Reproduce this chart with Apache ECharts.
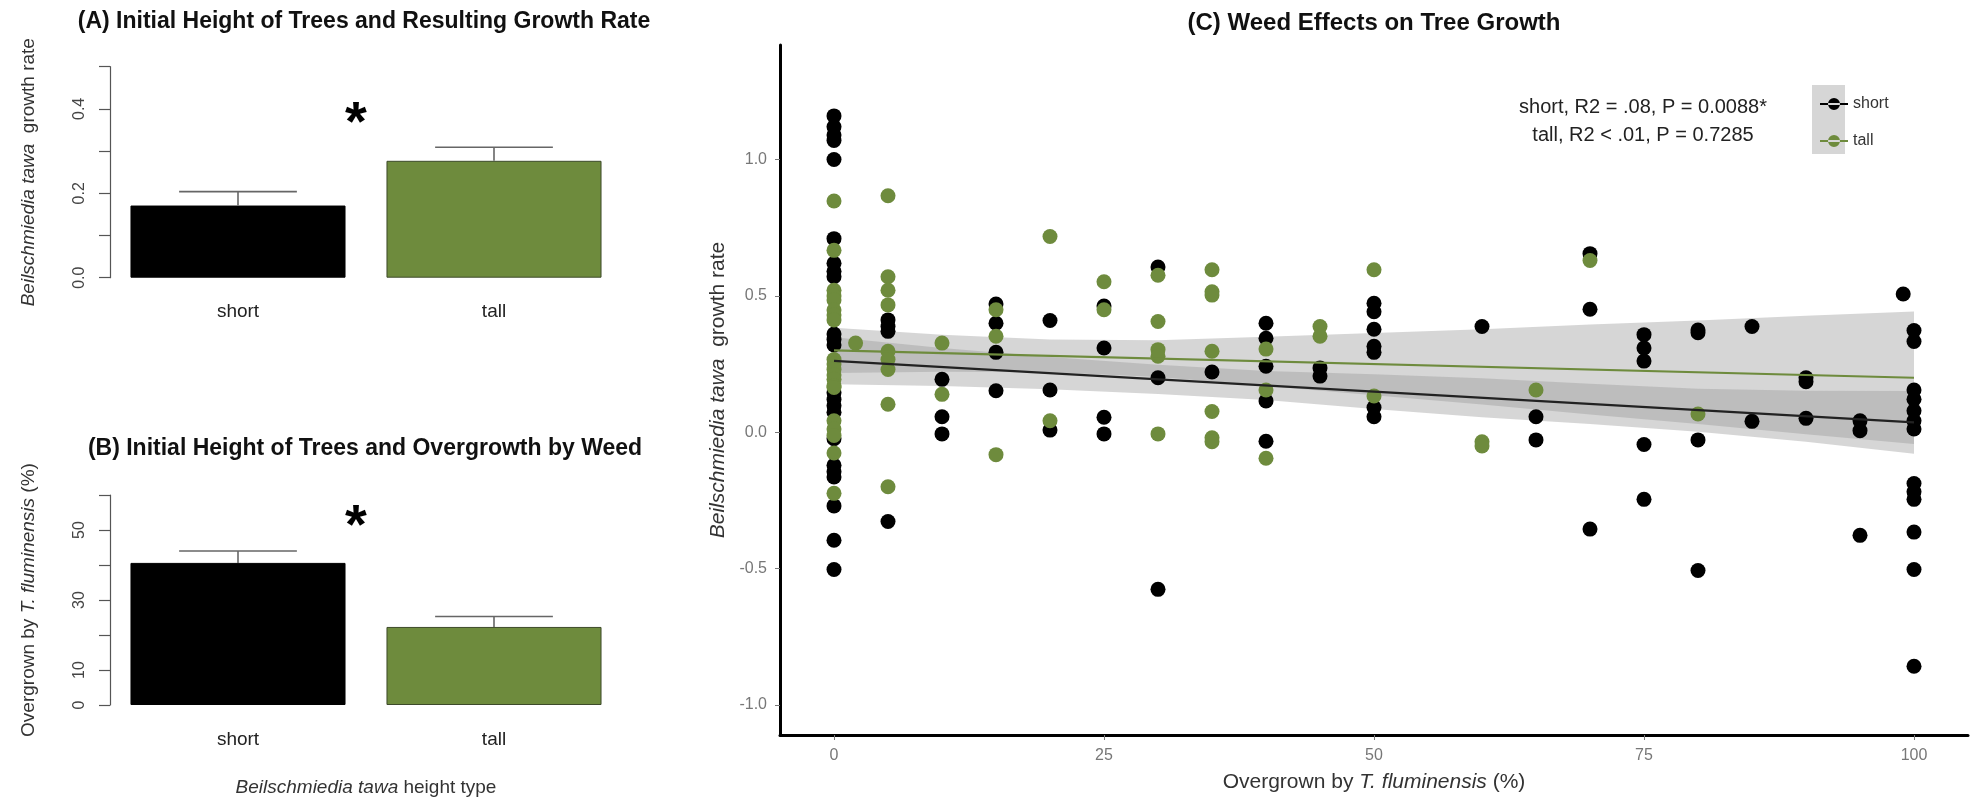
<!DOCTYPE html>
<html><head><meta charset="utf-8">
<script src="https://cdn.jsdelivr.net/npm/echarts@6/dist/echarts.min.js"></script>
<style>html,body{margin:0;padding:0;background:#fff}#c{width:1973px;height:798px}</style>
</head><body><div id="c"></div>
<script>
// ---------- Panel A: growth rate by height type ----------
const heightTypes = ['short', 'tall'];
const growthMeans = [0.171, 0.277];
const growthErrTop = [0.204, 0.309];
const growthTickLabels = [0.0, 0.2, 0.4];

// ---------- Panel B: overgrowth by height type ----------
const overgrowthMeans = [40.6, 22.3];
const overgrowthErrTop = [44.0, 25.3];
const overgrowthTickLabels = [0, 10, 30, 50];

// ---------- Panel C: scatter of growth vs overgrowth ----------
const shortPoints = [
  [0,1.16],[0,1.12],[0,1.09],[0,1.07],[0,1.00],[0,0.71],[0,0.62],[0,0.59],[0,0.57],[0,0.36],[0,0.34],[0,0.32],
  [0,0.145],[0,0.12],[0,0.097],[0,0.073],[0,-0.024],[0,-0.121],[0,-0.145],[0,-0.164],[0,-0.27],[0,-0.396],[0,-0.503],
  [5,0.412],[5,0.388],[5,0.37],[5,-0.327],
  [10,0.194],[10,0.057],[10,-0.006],
  [15,0.47],[15,0.40],[15,0.293],[15,0.152],
  [20,0.41],[20,0.155],[20,0.008],
  [25,0.463],[25,0.309],[25,0.055],[25,-0.006],
  [30,0.606],[30,0.20],[30,-0.576],
  [35,0.221],
  [40,0.40],[40,0.345],[40,0.242],[40,0.115],[40,-0.033],
  [45,0.236],[45,0.206],
  [50,0.473],[50,0.442],[50,0.378],[50,0.315],[50,0.293],[50,0.091],[50,0.057],
  [60,0.388],
  [65,0.057],[65,-0.028],
  [70,0.655],[70,0.451],[70,-0.355],
  [75,0.358],[75,0.309],[75,0.261],[75,-0.045],[75,-0.246],
  [80,0.375],[80,0.365],[80,-0.028],[80,-0.507],
  [85,0.388],[85,0.04],
  [90,0.20],[90,0.185],[90,0.051],
  [95,0.042],[95,0.006],[95,-0.378],
  [99,0.507],
  [100,0.373],[100,0.333],[100,0.155],[100,0.121],[100,0.079],[100,0.042],[100,0.012],
  [100,-0.188],[100,-0.218],[100,-0.246],[100,-0.366],[100,-0.503],[100,-0.858]
];
const tallPoints = [
  [0,0.848],[0,0.667],[0,0.521],[0,0.50],[0,0.485],[0,0.448],[0,0.43],[0,0.412],[0,0.267],[0,0.25],[0,0.23],[0,0.21],
  [0,0.194],[0,0.17],[0,0.164],[0,0.042],[0,0.012],[0,-0.012],[0,-0.076],[0,-0.224],
  [2,0.327],
  [5,0.867],[5,0.57],[5,0.521],[5,0.467],[5,0.297],[5,0.267],[5,0.23],[5,0.103],[5,-0.2],
  [10,0.327],[10,0.139],
  [15,0.449],[15,0.352],[15,-0.082],
  [20,0.718],[20,0.042],
  [25,0.552],[25,0.449],
  [30,0.576],[30,0.406],[30,0.303],[30,0.279],[30,-0.006],
  [35,0.596],[35,0.515],[35,0.503],[35,0.297],[35,0.076],[35,-0.02],[35,-0.035],
  [40,0.305],[40,0.155],[40,-0.095],
  [45,0.388],[45,0.352],
  [50,0.596],[50,0.133],
  [60,-0.035],[60,-0.05],
  [65,0.155],
  [70,0.63],
  [80,0.067]
];
const shortFit = [[0, 0.262], [100, 0.036]];
const tallFit = [[0, 0.300], [100, 0.200]];
const bandX = [0, 10, 20, 30, 40, 50, 60, 70, 80, 90, 100];
const shortBandLow  = [0.176, 0.170, 0.158, 0.140, 0.118, 0.085, 0.055, 0.030, 0.002, -0.035, -0.079];
const shortBandHigh = [0.348, 0.309, 0.276, 0.248, 0.225, 0.213, 0.198, 0.178, 0.160, 0.152, 0.151];
const tallBandLow   = [0.217, 0.222, 0.220, 0.203, 0.170, 0.136, 0.102, 0.065, 0.030, -0.007, -0.043];
const tallBandHigh  = [0.383, 0.358, 0.340, 0.337, 0.350, 0.364, 0.378, 0.395, 0.410, 0.427, 0.443];
const scatterXTicks = [0, 25, 50, 75, 100];
const scatterYTicks = [-1.0, -0.5, 0.0, 0.5, 1.0];
const statLines = ['short, R2 = .08, P = 0.0088*', 'tall, R2 < .01, P = 0.7285'];

// ---------- styling ----------
const GREEN = '#6E8B3D';
const BASE = "'Liberation Sans', Arial, sans-serif";

const chart = echarts.init(document.getElementById('c'), null, {renderer: 'canvas'});

function richName(size) {
  return {fontSize: size, color: '#333', fontFamily: BASE,
    rich: {i: {fontStyle: 'italic', fontSize: size, color: '#333', fontFamily: BASE}}};
}
function barYAxis(idx, max, interval, shownLabels, decimals, name) {
  return {
    type: 'value', gridIndex: idx, min: 0, max: max, interval: interval,
    axisLine: {show: true, lineStyle: {color: '#555', width: 1.2}},
    axisTick: {show: true, length: 11, inside: false, lineStyle: {color: '#555', width: 1.2}},
    splitLine: {show: false},
    axisLabel: {
      rotate: 90, margin: 22, fontSize: 16, color: '#444', fontFamily: BASE,
      formatter: v => shownLabels.some(t => Math.abs(t - v) < 1e-9) ? v.toFixed(decimals) : ''
    },
    name: name, nameLocation: 'middle', nameRotate: 90, nameGap: 72,
    nameTextStyle: richName(19)
  };
}
function barXAxis(idx, name) {
  const ax = {
    type: 'category', gridIndex: idx, data: heightTypes,
    axisLine: {show: false}, axisTick: {show: false},
    axisLabel: {margin: 25, fontSize: 19, color: '#222', fontFamily: BASE}
  };
  if (name) {
    ax.name = name; ax.nameLocation = 'middle'; ax.nameGap = 73;
    ax.nameTextStyle = richName(19);
  }
  return ax;
}
function barSeries(idx, name, values) {
  return {
    type: 'bar', name: name, xAxisIndex: idx, yAxisIndex: idx, barWidth: '84%',
    data: values.map((v, i) => ({value: v, itemStyle: {
      color: i === 0 ? '#000' : GREEN, borderColor: i === 0 ? '#000' : '#3d4a2a', borderWidth: 1}})),
    z: 2
  };
}
function errSeries(idx, means, tops) {
  return {
    type: 'custom', xAxisIndex: idx, yAxisIndex: idx, z: 3, silent: true,
    data: heightTypes.map((c, i) => [i, means[i], tops[i]]),
    renderItem: (params, api) => {
      const base = api.coord([api.value(0), api.value(1)]);
      const top = api.coord([api.value(0), api.value(2)]);
      const hw = api.size([1, 0])[0] * 0.23;
      return {type: 'group', children: [
        {type: 'line', shape: {x1: base[0], y1: base[1], x2: top[0], y2: top[1]}, style: {stroke: '#666', lineWidth: 1.6}},
        {type: 'line', shape: {x1: top[0] - hw, y1: top[1], x2: top[0] + hw, y2: top[1]}, style: {stroke: '#666', lineWidth: 1.6}}
      ]};
    }
  };
}
function bandSeries(low, high) {
  return {
    type: 'custom', xAxisIndex: 2, yAxisIndex: 2, z: 1, silent: true,
    data: bandX.map((x, i) => [x, low[i], high[i]]),
    renderItem: (params, api) => {
      if (params.dataIndex !== 0) return null;
      const top = bandX.map((x, i) => api.coord([x, high[i]]));
      const bot = bandX.map((x, i) => api.coord([x, low[i]])).reverse();
      return {type: 'polygon', shape: {points: top.concat(bot)}, style: {fill: 'rgba(153,153,153,0.4)'}};
    }
  };
}
const legendIcon = 'path://M0,6 L28,6 L28,8 L0,8 Z M8,7 A6,6 0 1 0 20,7 A6,6 0 1 0 8,7 Z';

const option = {
  animation: false,
  backgroundColor: '#fff',
  textStyle: {fontFamily: BASE},
  grid: [
    {left: 110, top: 66.7, width: 512, height: 211},
    {left: 110, top: 495, width: 512, height: 211},
    {left: 780, top: 45, width: 1188, height: 695}
  ],
  xAxis: [
    barXAxis(0, null),
    barXAxis(1, '{i|Beilschmiedia tawa} height type'),
    {
      type: 'value', gridIndex: 2, min: -5, max: 105,
      axisLine: {show: true, onZero: false, lineStyle: {color: '#000', width: 3}},
      axisTick: {show: true, length: 5, customValues: scatterXTicks, lineStyle: {color: '#777', width: 1}},
      axisLabel: {customValues: scatterXTicks, margin: 13, fontSize: 16, color: '#777', fontFamily: BASE},
      splitLine: {show: false},
      name: 'Overgrown by {i|T. fluminensis} (%)', nameLocation: 'middle', nameGap: 37,
      nameTextStyle: richName(21)
    }
  ],
  yAxis: [
    barYAxis(0, 0.5, 0.1, growthTickLabels, 1, '{i|Beilschmiedia tawa}  growth rate'),
    barYAxis(1, 60, 10, overgrowthTickLabels, 0, 'Overgrown by {i|T. fluminensis} (%)'),
    {
      type: 'value', gridIndex: 2, min: -1.11, max: 1.42,
      axisLine: {show: true, onZero: false, lineStyle: {color: '#000', width: 3}},
      axisTick: {show: true, length: 5, customValues: scatterYTicks, lineStyle: {color: '#777', width: 1}},
      axisLabel: {customValues: scatterYTicks, margin: 13, fontSize: 16, color: '#777', fontFamily: BASE,
        formatter: v => v.toFixed(1)},
      splitLine: {show: false},
      name: '{i|Beilschmiedia tawa}  growth rate', nameLocation: 'middle', nameRotate: 90, nameGap: 48,
      nameTextStyle: richName(21)
    }
  ],
  legend: {
    data: [{name: 'short', icon: legendIcon}, {name: 'tall', icon: legendIcon}],
    orient: 'vertical', left: 1815, top: 91, itemWidth: 28, itemHeight: 12, itemGap: 21,
    textStyle: {fontSize: 16, color: '#333', fontFamily: BASE}, selectedMode: false
  },
  series: [
    barSeries(0, 'growth', growthMeans),
    errSeries(0, growthMeans, growthErrTop),
    barSeries(1, 'overgrowth', overgrowthMeans),
    errSeries(1, overgrowthMeans, overgrowthErrTop),
    bandSeries(tallBandLow, tallBandHigh),
    bandSeries(shortBandLow, shortBandHigh),
    {type: 'scatter', name: 'short', xAxisIndex: 2, yAxisIndex: 2, data: shortPoints, symbolSize: 15,
      itemStyle: {color: '#000', opacity: 1}, z: 3},
    {type: 'scatter', name: 'tall', xAxisIndex: 2, yAxisIndex: 2, data: tallPoints, symbolSize: 15,
      itemStyle: {color: GREEN, opacity: 1}, z: 4},
    {type: 'line', name: 'shortFit', xAxisIndex: 2, yAxisIndex: 2, data: shortFit, showSymbol: false,
      lineStyle: {color: '#222', width: 2.2}, z: 5, silent: true},
    {type: 'line', name: 'tallFit', xAxisIndex: 2, yAxisIndex: 2, data: tallFit, showSymbol: false,
      lineStyle: {color: GREEN, width: 2.2}, z: 5, silent: true}
  ],
  graphic: [
    {type: 'text', x: 364, y: 22, style: {text: '(A) Initial Height of Trees and Resulting Growth Rate',
      font: 'bold 23px ' + BASE, fill: '#111', align: 'center', verticalAlign: 'middle'}},
    {type: 'text', x: 365, y: 449, style: {text: '(B) Initial Height of Trees and Overgrowth by Weed',
      font: 'bold 23px ' + BASE, fill: '#111', align: 'center', verticalAlign: 'middle'}},
    {type: 'text', x: 1374, y: 23, style: {text: '(C) Weed Effects on Tree Growth',
      font: 'bold 24px ' + BASE, fill: '#111', align: 'center', verticalAlign: 'middle'}},
    {type: 'text', x: 356, y: 125, style: {text: '*', font: 'bold 56px ' + BASE, fill: '#000', align: 'center', verticalAlign: 'middle'}},
    {type: 'text', x: 356, y: 528, style: {text: '*', font: 'bold 56px ' + BASE, fill: '#000', align: 'center', verticalAlign: 'middle'}},
    {type: 'text', x: 1643, y: 107, style: {text: statLines[0], font: '20px ' + BASE, fill: '#222', align: 'center', verticalAlign: 'middle'}},
    {type: 'text', x: 1643, y: 135, style: {text: statLines[1], font: '20px ' + BASE, fill: '#222', align: 'center', verticalAlign: 'middle'}},
    {type: 'rect', z: -1, shape: {x: 1812, y: 85, width: 33, height: 69}, style: {fill: '#d6d6d6'}}
  ]
};
chart.setOption(option);
</script>
</body></html>
